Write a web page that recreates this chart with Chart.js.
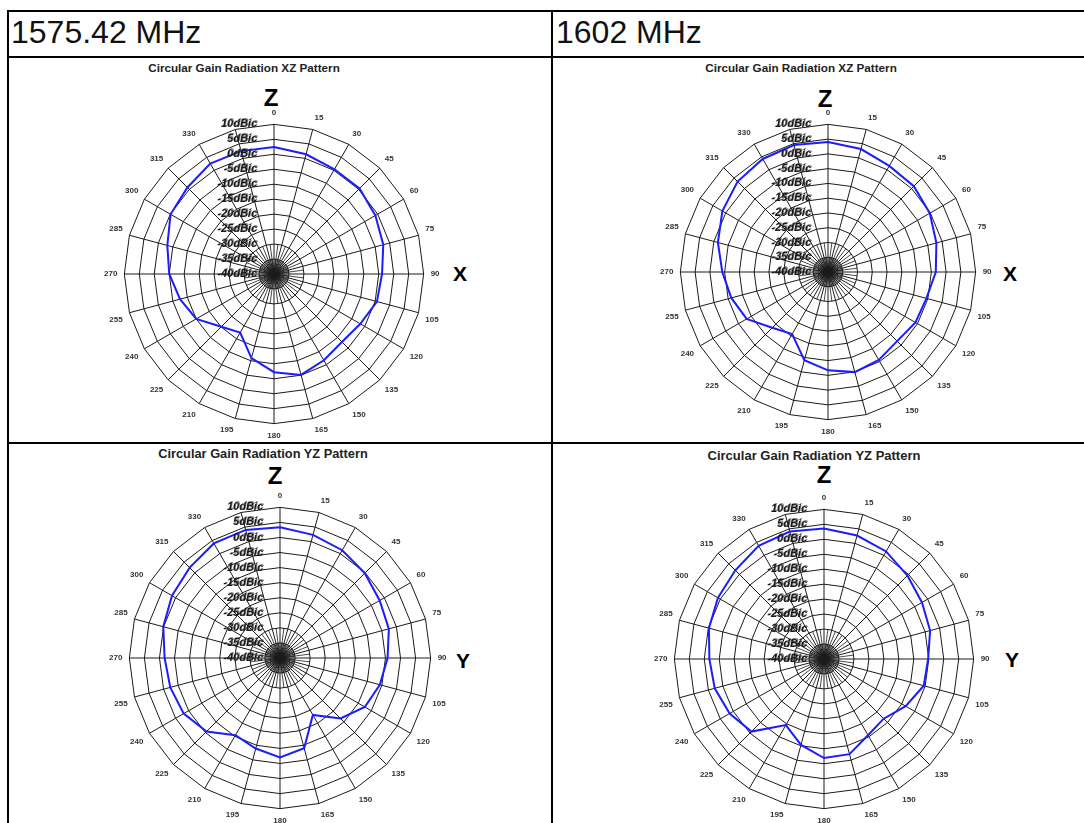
<!DOCTYPE html>
<html>
<head>
<meta charset="utf-8">
<script src="https://cdn.jsdelivr.net/npm/chart.js@4.4.0/dist/chart.umd.min.js"></script>
<style>
  body { margin: 0; background: #fff; font-family: "Liberation Sans", Arial, sans-serif; }
  #page { position: relative; width: 1084px; height: 823px; overflow: hidden; }
  .rule { position: absolute; background: #000; }
  .head { position: absolute; top: 14px; font-size: 32px; line-height: 36px; color: #111; white-space: nowrap; }
  .title, .axis { position: absolute; white-space: nowrap; line-height: 1; font-weight: bold; transform: translate(-50%, -50%); }
  .title { color: #222; }
  .axis { color: #000; }
  canvas { position: absolute; }
</style>
</head>
<body>
<div id="page">
  <!-- table rules -->
  <div class="rule" style="left:7px;top:10px;width:1090px;height:2px"></div>
  <div class="rule" style="left:7px;top:56px;width:1090px;height:2px"></div>
  <div class="rule" style="left:7px;top:442px;width:1090px;height:2px"></div>
  <div class="rule" style="left:7px;top:10px;width:2px;height:820px"></div>
  <div class="rule" style="left:551px;top:10px;width:2px;height:820px"></div>

  <div class="head" style="left:11px">1575.42 MHz</div>
  <div class="head" style="left:556px">1602 MHz</div>

  <div class="title" style="left:244px;top:68px;font-size:11.7px">Circular Gain Radiation XZ Pattern</div>
  <div class="title" style="left:801px;top:68px;font-size:11.7px">Circular Gain Radiation XZ Pattern</div>
  <div class="title" style="left:263px;top:454px;font-size:12.8px">Circular Gain Radiation YZ Pattern</div>
  <div class="title" style="left:814px;top:455px;font-size:13px">Circular Gain Radiation YZ Pattern</div>

  <div class="axis" style="left:271px;top:98px;font-size:24px">Z</div>
  <div class="axis" style="left:825px;top:99px;font-size:24px">Z</div>
  <div class="axis" style="left:275px;top:476px;font-size:24px">Z</div>
  <div class="axis" style="left:824px;top:475px;font-size:24px">Z</div>
  <div class="axis" style="left:460px;top:273px;font-size:21px">X</div>
  <div class="axis" style="left:1010px;top:273px;font-size:21px">X</div>
  <div class="axis" style="left:463px;top:660px;font-size:21px">Y</div>
  <div class="axis" style="left:1012px;top:659px;font-size:21px">Y</div>

  <canvas id="xz1575"></canvas>
  <canvas id="xz1602"></canvas>
  <canvas id="yz1575"></canvas>
  <canvas id="yz1602"></canvas>
</div>
<script>
// angles in degrees, clockwise from Z
const angles = [0, 15, 30, 45, 60, 75, 90, 105, 120, 135, 150, 165,
                180, 195, 210, 225, 240, 255, 270, 285, 300, 315, 330, 345];
// radial ticks, dBic
const gainMin = -40;
const gainMax = 10;
const gainStep = 5;

// gain in dBic at each angle
const xz1575 = [2.4, 1.4, 0.4, 0.4, -0.9, -2.2, -3.9, -4.4, -6.7, -7.9, -6.7, -5.1,
                -7.2, -10.9, -17.4, -15.1, -10, -7.5, -5, -3.1, -0.1, 0.9, 2.6, 2.5];
const xz1602 = [4.0, 3.1, 1.5, 1.1, -0.2, -2, -3.5, -5.5, -5.8, -6.9, -5.6, -4.9,
                -6.7, -9.1, -15.7, -13.3, -8.2, -6.1, -4.2, -1.4, 1.3, 3.3, 4.2, 4.5];
const yz1575 = [3.4, 2.3, 1.3, -0.2, -1.8, -2.6, -4.3, -5.7, -7.5, -11.6, -18.2, -9,
                -7, -8.9, -10.4, -5.5, -3.1, -2.3, -1.7, 0.1, 1.4, 2.4, 3.9, 4.0];
const yz1602 = [3.6, 2.7, 1.5, -0.6, -2.2, -3.3, -5.2, -5.5, -8.5, -11.8, -10.6, -7.1,
                -6.9, -10.3, -14.5, -5.7, -3.6, -2.2, -1.7, -0.2, 0.9, 1.9, 3.7, 4.1];

const gridColor = '#1a1a1a';
const lineColor = '#1c1cff';
const fontFamily = '"Liberation Sans", Arial, sans-serif';

function spoke(ctx, r, index, dist) {
  const p = r.getPointPosition(index, dist);
  ctx.beginPath();
  ctx.moveTo(r.xCenter, r.yCenter);
  ctx.lineTo(p.x, p.y);
  ctx.stroke();
}

// short extra spokes near the centre + dBic labels left of the 0 spoke
const polarExtras = {
  id: 'polarExtras',
  beforeDatasetsDraw(chart) {
    const r = chart.scales.r;
    const ctx = chart.ctx;
    const n = chart.data.labels.length;
    const ring1 = r.getDistanceFromCenterForValue(-35);
    const ring2 = r.getDistanceFromCenterForValue(-30);
    ctx.save();
    ctx.strokeStyle = gridColor;
    ctx.lineWidth = 0.8;
    for (let k = 0; k < n * 6; k++) {
      if (k % 6 === 0) continue;
      if (k % 3 === 0) spoke(ctx, r, k / 6, ring2);
      else if (k % 2 === 0) spoke(ctx, r, k / 6, ring1);
    }
    ctx.restore();
  },
  afterDraw(chart) {
    const r = chart.scales.r;
    const ctx = chart.ctx;
    ctx.save();
    ctx.font = 'italic bold 11px ' + fontFamily;
    ctx.textAlign = 'right';
    ctx.textBaseline = 'middle';
    r.ticks.forEach(t => {
      const y = r.yCenter - r.getDistanceFromCenterForValue(t.value);
      const x = r.xCenter - 17;
      ctx.fillStyle = 'rgba(60,60,60,0.6)';
      ctx.fillText(t.label, x + 1, y - 1);
      ctx.fillStyle = '#1a1a1a';
      ctx.fillText(t.label, x, y);
    });
    ctx.restore();
  }
};

function polarChart(id, values, cx, cy, radius) {
  const size = Math.round(2 * (radius + 20));
  const el = document.getElementById(id);
  el.width = size;
  el.height = size;
  el.style.left = (cx - size / 2 - 2) + 'px';
  el.style.top = (cy - size / 2) + 'px';
  return new Chart(el, {
    type: 'radar',
    data: {
      labels: angles,
      datasets: [{
        data: values,
        borderColor: lineColor,
        borderWidth: 2,
        pointRadius: 0,
        fill: false,
        tension: 0
      }]
    },
    options: {
      responsive: false,
      animation: false,
      plugins: { legend: { display: false }, tooltip: { enabled: false } },
      scales: {
        r: {
          min: gainMin,
          max: gainMax,
          ticks: {
            stepSize: gainStep,
            display: false,
            callback: v => v + 'dBic'
          },
          grid: { color: gridColor, lineWidth: 1, circular: false },
          angleLines: { color: gridColor, lineWidth: 1 },
          pointLabels: {
            padding: 7,
            color: '#333',
            font: { family: fontFamily, size: 8, weight: 'bold' },
            // 345 is hidden under the dBic labels in the original
            callback: (label) => label === 345 ? '' : String(label)
          }
        }
      }
    },
    plugins: [polarExtras]
  });
}

polarChart('xz1575', xz1575, 274, 275, 150);
polarChart('xz1602', xz1602, 828, 273, 148);
polarChart('yz1575', yz1575, 280, 659, 151);
polarChart('yz1602', yz1602, 824, 660, 150);
</script>
</body>
</html>
